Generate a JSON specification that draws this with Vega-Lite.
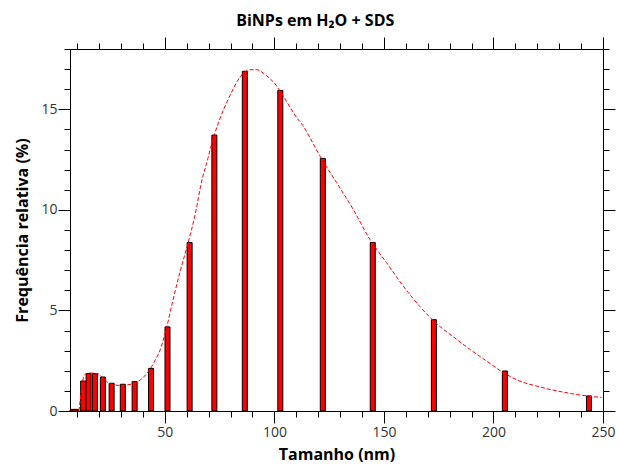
{
  "$schema": "https://vega.github.io/schema/vega-lite/v6.json",
  "autosize": "none",
  "width": 533,
  "height": 362,
  "padding": {"left": 70, "top": 49, "right": 17, "bottom": 57},
  "background": "white",
  "title": {"text": "BiNPs em H₂O + SDS", "font": "Open Sans", "fontSize": 16, "fontWeight": "bold", "color": "black", "anchor": "middle", "frame": "bounds", "offset": 8},
  "config": {
    "view": {"stroke": null},
    "axis": {"domainColor": "black", "tickColor": "black", "domainWidth": 1, "tickWidth": 1, "grid": false, "labelFont": "Open Sans", "labelFontSize": 14, "labelColor": "#333333", "titleFont": "Open Sans", "titleFontSize": 16, "titleFontWeight": "bold", "titleColor": "black"}
  },
  "datasets": {
    "bars": [
      {"tamanho": 7.9, "freq": 0.08},
      {"tamanho": 9.5, "freq": 0.08},
      {"tamanho": 12.7, "freq": 1.49},
      {"tamanho": 15.2, "freq": 1.86},
      {"tamanho": 18.1, "freq": 1.86},
      {"tamanho": 21.7, "freq": 1.69},
      {"tamanho": 25.7, "freq": 1.38},
      {"tamanho": 30.8, "freq": 1.33},
      {"tamanho": 36.2, "freq": 1.46},
      {"tamanho": 43.7, "freq": 2.12},
      {"tamanho": 51.2, "freq": 4.18},
      {"tamanho": 61.3, "freq": 8.38},
      {"tamanho": 72.6, "freq": 13.72},
      {"tamanho": 86.5, "freq": 16.89},
      {"tamanho": 102.7, "freq": 15.94},
      {"tamanho": 122.1, "freq": 12.56},
      {"tamanho": 144.9, "freq": 8.38},
      {"tamanho": 172.8, "freq": 4.54},
      {"tamanho": 205.2, "freq": 1.99},
      {"tamanho": 243.6, "freq": 0.75}
    ],
    "fit": [
      {"tamanho": 10.77, "freq": 0.0},
      {"tamanho": 12.0, "freq": 1.08},
      {"tamanho": 13.05, "freq": 1.75},
      {"tamanho": 14.28, "freq": 1.87},
      {"tamanho": 16.7, "freq": 1.89},
      {"tamanho": 19.58, "freq": 1.85},
      {"tamanho": 21.86, "freq": 1.64},
      {"tamanho": 24.14, "freq": 1.4},
      {"tamanho": 26.74, "freq": 1.3},
      {"tamanho": 30.25, "freq": 1.27},
      {"tamanho": 33.13, "freq": 1.3},
      {"tamanho": 35.41, "freq": 1.36},
      {"tamanho": 38.6, "freq": 1.53},
      {"tamanho": 41.66, "freq": 1.85},
      {"tamanho": 43.94, "freq": 2.2},
      {"tamanho": 45.45, "freq": 2.5},
      {"tamanho": 47.73, "freq": 3.0},
      {"tamanho": 50.79, "freq": 4.15},
      {"tamanho": 53.8, "freq": 5.56},
      {"tamanho": 56.86, "freq": 6.89},
      {"tamanho": 60.64, "freq": 8.38},
      {"tamanho": 63.7, "freq": 9.7},
      {"tamanho": 66.76, "freq": 11.4},
      {"tamanho": 69.77, "freq": 12.6},
      {"tamanho": 71.32, "freq": 13.27},
      {"tamanho": 75.11, "freq": 14.52},
      {"tamanho": 79.67, "freq": 15.67},
      {"tamanho": 84.24, "freq": 16.59},
      {"tamanho": 88.8, "freq": 16.97},
      {"tamanho": 91.86, "freq": 16.97},
      {"tamanho": 96.42, "freq": 16.67},
      {"tamanho": 100.98, "freq": 16.17},
      {"tamanho": 103.99, "freq": 15.67},
      {"tamanho": 110.11, "freq": 14.6},
      {"tamanho": 113.12, "freq": 14.18},
      {"tamanho": 116.18, "freq": 13.6},
      {"tamanho": 120.74, "freq": 12.69},
      {"tamanho": 128.36, "freq": 11.36},
      {"tamanho": 135.94, "freq": 10.03},
      {"tamanho": 143.55, "freq": 8.54},
      {"tamanho": 151.17, "freq": 7.38},
      {"tamanho": 158.75, "freq": 6.22},
      {"tamanho": 166.37, "freq": 5.2},
      {"tamanho": 173.99, "freq": 4.35},
      {"tamanho": 181.56, "freq": 3.7},
      {"tamanho": 189.18, "freq": 3.07},
      {"tamanho": 196.81, "freq": 2.49},
      {"tamanho": 204.38, "freq": 1.92},
      {"tamanho": 212.0, "freq": 1.49},
      {"tamanho": 219.62, "freq": 1.24},
      {"tamanho": 227.2, "freq": 1.04},
      {"tamanho": 234.82, "freq": 0.88},
      {"tamanho": 242.44, "freq": 0.75},
      {"tamanho": 249.28, "freq": 0.68}
    ]
  },
  "layer": [
    {
      "data": {"name": "bars"},
      "mark": {"type": "bar", "size": 5, "fill": "#ff0000", "stroke": "black", "strokeWidth": 1},
      "encoding": {
        "x": {"field": "tamanho", "type": "quantitative", "scale": {"domain": [6.7, 250], "nice": false, "zero": false, "padding": 0},
          "axis": {"orient": "bottom", "title": "Tamanho (nm)", "values": [10,20,30,40,50,60,70,80,90,100,110,120,130,140,150,160,170,180,190,200,210,220,230,240,250],
            "labelExpr": "datum.value % 50 === 0 ? datum.label : ''", "tickSize": {"expr": "datum.value % 50 === 0 ? 12 : 6"}, "labelPadding": 2, "titlePadding": 7, "labelFlush": false, "labelOverlap": false}},
        "y": {"field": "freq", "type": "quantitative", "scale": {"domain": [0, 18], "nice": false},
          "axis": {"orient": "left", "title": "Frequência relativa (%)", "values": [0,1,2,3,4,5,6,7,8,9,10,11,12,13,14,15,16,17,18],
            "labelExpr": "datum.value % 5 === 0 ? datum.label : ''", "tickSize": {"expr": "datum.value % 5 === 0 ? 12 : 6"}, "labelPadding": 1, "titlePadding": 10, "labelFlush": false, "labelOverlap": false}}
      }
    },
    {
      "data": {"name": "fit"},
      "mark": {"type": "line", "color": "#ff0000", "strokeWidth": 1, "strokeDash": [4, 2], "interpolate": "monotone"},
      "encoding": {
        "x": {"field": "tamanho", "type": "quantitative", "scale": {"domain": [6.7, 250], "nice": false, "zero": false, "padding": 0},
          "axis": {"orient": "top", "title": null, "values": [10,20,30,40,50,60,70,80,90,100,110,120,130,140,150,160,170,180,190,200,210,220,230,240,250],
            "labels": false, "tickSize": {"expr": "datum.value % 50 === 0 ? 12 : 6"}}},
        "y": {"field": "freq", "type": "quantitative", "scale": {"domain": [0, 18], "nice": false},
          "axis": {"orient": "right", "title": null, "values": [0,1,2,3,4,5,6,7,8,9,10,11,12,13,14,15,16,17,18],
            "labels": false, "tickSize": {"expr": "datum.value % 5 === 0 ? 12 : 6"}}}
      }
    }
  ],
  "resolve": {"axis": {"x": "independent", "y": "independent"}}
}
